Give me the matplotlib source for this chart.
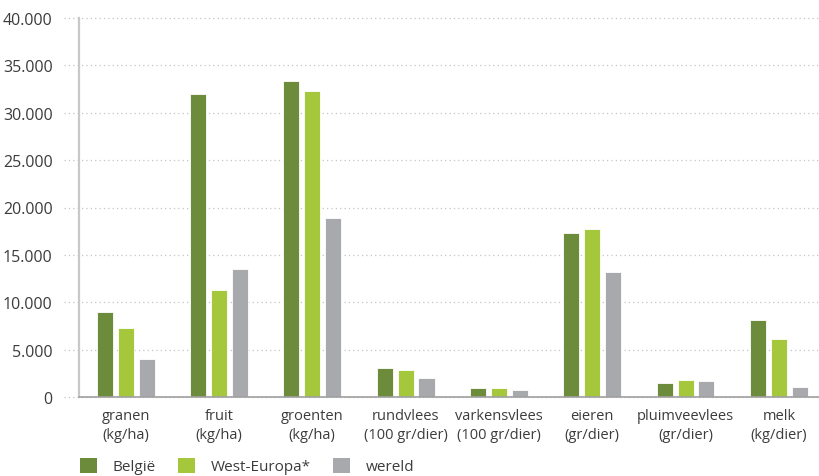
import numpy as np
import matplotlib.pyplot as plt
from matplotlib.patches import Patch

# Chart settings
dark = '#3c3c3c'
plt.rcParams["font.family"] = ["Open Sans", "DejaVu Sans"]
plt.rcParams["text.color"] = dark
plt.rcParams["xtick.color"] = dark
plt.rcParams["ytick.color"] = dark

categories = ["granen\n(kg/ha)", "fruit\n(kg/ha)", "groenten\n(kg/ha)",
              "rundvlees\n(100 gr/dier)", "varkensvlees\n(100 gr/dier)",
              "eieren\n(gr/dier)", "pluimveevlees\n(gr/dier)", "melk\n(kg/dier)"]
belgie = [9000, 32000, 33300, 3100, 920, 17300, 1480, 8100]
west_europa = [7300, 11300, 32300, 2900, 920, 17700, 1800, 6100]
wereld = [4050, 13500, 18900, 2000, 770, 13200, 1650, 1020]
series_names = ["België", "West-Europa*", "wereld"]
colors = ['#6c8b3b', '#a5c73c', '#a8a9ad']
yticks = [0, 5000, 10000, 15000, 20000, 25000, 30000, 35000, 40000]

fig = plt.figure(figsize=(8.19, 4.77), dpi=100)
ax = fig.add_axes([79/819, 1 - 398/477, 740/819, 379/477])

x = np.arange(len(categories))
width = 0.172
step = 0.224
for i, (vals, col) in enumerate(zip([belgie, west_europa, wereld], colors)):
    ax.bar(x + (i - 1) * step, vals, width, color=col, edgecolor='white',
           linewidth=0.6, zorder=3)

ax.set_xlim(-0.5, 7.43)
ax.set_ylim(0, 40000)

# dotted gridlines that run a bit past the y axis
for t in yticks:
    ax.axhline(t, xmin=-15/740, xmax=1, color='#c4c4c4', linestyle=(0, (1, 2.5)),
               linewidth=0.9, clip_on=False, zorder=1)

ax.set_yticks(yticks)
ax.set_yticklabels([f"{t:,}".replace(",", ".") for t in yticks], fontsize=11.5)
ax.set_xticks(x)
ax.set_xticklabels(categories, fontsize=10.5, linespacing=1.35)
ax.tick_params(axis='y', length=0, pad=19)
ax.tick_params(axis='x', length=0, pad=8)

for s in ['top', 'right']:
    ax.spines[s].set_visible(False)
ax.spines['left'].set_color('#c8c8c8')
ax.spines['left'].set_linewidth(1.6)
ax.spines['bottom'].set_color('#a0a0a0')
ax.spines['bottom'].set_linewidth(1.2)
ax.spines['bottom'].set_zorder(4)

handles = [Patch(facecolor=c, edgecolor='none') for c in colors]
fig.legend(handles, series_names, loc='center left', bbox_to_anchor=(80/819, 1 - 467/477),
           ncol=3, frameon=False, fontsize=11, handlelength=1.1, handleheight=1.2,
           handletextpad=1.0, columnspacing=1.5, borderpad=0, borderaxespad=0)

fig.savefig("out.png", dpi=100)
